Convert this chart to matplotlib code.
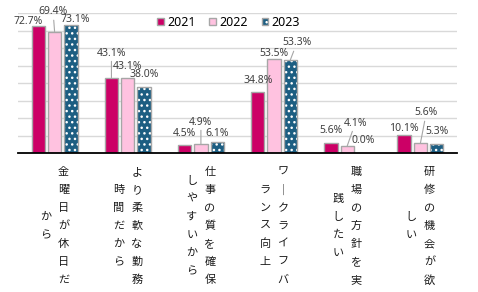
import matplotlib
matplotlib.use("Agg")
import matplotlib.pyplot as plt
from matplotlib.font_manager import FontProperties
from matplotlib.legend_handler import HandlerTuple
import numpy as np

# ---- data ----
categories = ["金曜日が休日だから", "より柔軟な勤務時間だから", "仕事の質を確保しやすいから",
              "ワークライフバランス向上", "職場の方針を実践したい", "研修の機会が欲しい"]
series_names = ["2021", "2022", "2023"]
v2021 = [72.7, 43.1, 4.5, 34.8, 5.6, 10.1]
v2022 = [69.4, 43.1, 4.9, 53.5, 4.1, 5.6]
v2023 = [73.1, 38.0, 6.1, 53.3, 0.0, 5.3]

# label placement (x offset in group units, y in data units, leader line?)
lab2021 = [(-0.141, 75.4, False), (0.0, 57.1, True), (0.0, 11.4, False),
           (0.0, 41.7, False), (0.0, 12.9, False), (0.0, 14.1, False)]
lab2022 = [(-0.02, 80.6, True), (0.0, 49.7, False), (0.0, 17.7, True),
           (0.0, 57.1, False), (0.11, 17.1, True), (0.08, 22.9, True)]
lab2023 = [(0.055, 76.0, False), (0.0, 44.6, False), (0.0, 11.4, False),
           (0.089, 62.9, True), (0.0, 6.9, False), (0.0, 12.0, False)]

# ---- style ----
W, H = 478, 292
c2021 = "#CC0066"
c2022 = "#FFC2E0"
c2023 = "#1C5E82"
edge = "#A6A6A6"
lab_color = "#404040"
num_font = FontProperties(family="Noto Sans", size=7.5)
leg_font = FontProperties(family="Noto Sans", size=9)
jp_family = ["Noto Sans CJK JP", "DejaVu Sans"]

fig = plt.figure(figsize=(W / 100, H / 100), dpi=100)
ax = fig.add_axes([18 / W, (H - 153) / H, (457 - 18) / W, 140 / H])

x = np.arange(len(categories))
bw = 0.182
off = 0.223

b1 = ax.bar(x - off, v2021, bw, color=c2021, edgecolor=edge, linewidth=1.0, zorder=3)
b2 = ax.bar(x, v2022, bw, color=c2022, edgecolor=edge, linewidth=1.0, zorder=3)
b3 = ax.bar(x + off, v2023, bw, color=c2023, edgecolor="white", linewidth=0,
            hatch="...", zorder=3)
b3e = ax.bar(x + off, v2023, bw, fill=False, edgecolor=edge, linewidth=1.0, zorder=4)
# hide zero-height bars' edges
for rect, v in zip(b3e, v2023):
    if v == 0:
        rect.set_visible(False)
for rect, v in zip(b3, v2023):
    if v == 0:
        rect.set_visible(False)

ax.set_xlim(-0.5, len(categories) - 0.5)
ax.set_ylim(0, 80)
ax.set_yticks(np.arange(0, 81, 10))
ax.yaxis.grid(True, color="#D9D9D9", linewidth=1.0, zorder=0)
ax.set_axisbelow(True)
ax.tick_params(left=False, bottom=False, labelleft=False, labelbottom=False)
for s in ["left", "right", "top"]:
    ax.spines[s].set_visible(False)
ax.spines["bottom"].set_color("black")
ax.spines["bottom"].set_linewidth(1.3)
ax.spines["bottom"].set_zorder(5)

# ---- data labels ----
for offs, vals, labs in [(-off, v2021, lab2021), (0.0, v2022, lab2022), (off, v2023, lab2023)]:
    for i, (v, (dx, ly, leader)) in enumerate(zip(vals, labs)):
        bx = i + offs
        txt = f"{v:.1f}%"
        if leader:
            ax.annotate(txt, xy=(bx, v), xytext=(bx + dx, ly), ha="center", va="center",
                        fontproperties=num_font, color=lab_color, annotation_clip=False,
                        arrowprops=dict(arrowstyle="-", color=edge, lw=0.8,
                                        shrinkA=0, shrinkB=0), zorder=6)
        else:
            ax.text(bx + dx, ly, txt, ha="center", va="center", fontproperties=num_font,
                    color=lab_color, clip_on=False, zorder=6)

# ---- vertical category labels (Japanese vertical writing, right-to-left columns) ----
per_col = 7
col_gap = 18
char_step = 18
center_dy = 73
for i, cat in enumerate(categories):
    chars = ["｜" if ch == "ー" else ch for ch in cat]
    cols = [chars[k:k + per_col] for k in range(0, len(chars), per_col)]
    ncol = len(cols)
    for c, col in enumerate(cols):
        dxp = ((ncol - 1) / 2 - c) * col_gap
        n = len(col)
        for k, ch in enumerate(col):
            dyp = -(center_dy + (k - (n - 1) / 2) * char_step)
            ax.annotate(ch, xy=(i, 0), xycoords="data", xytext=(dxp, dyp),
                        textcoords="offset pixels", ha="center", va="center",
                        family=jp_family, fontsize=8, color="#1A1A1A",
                        annotation_clip=False)

# ---- legend ----
fig.legend(handles=[b1[0], b2[0], (b3[0], b3e[0])], labels=series_names,
           loc="center left", bbox_to_anchor=(157 / W, 1 - 22.5 / H), ncol=3,
           frameon=False, handlelength=0.55, handleheight=0.55, handletextpad=0.25,
           columnspacing=1.1, borderpad=0, borderaxespad=0, prop=leg_font,
           handler_map={tuple: HandlerTuple(ndivide=1)})

fig.savefig("out.png", dpi=100)
